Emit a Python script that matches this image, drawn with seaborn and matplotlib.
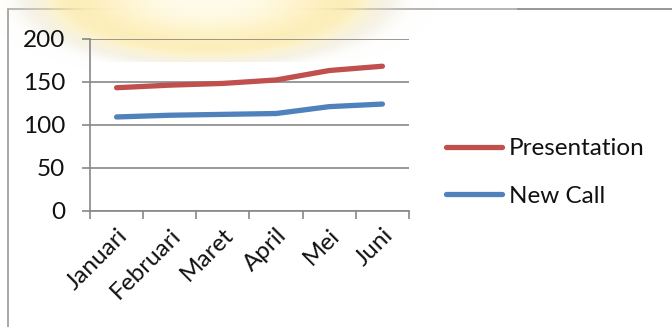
import numpy as np
import pandas as pd
import matplotlib
matplotlib.use("Agg")
import matplotlib.pyplot as plt
import seaborn as sns
from matplotlib.lines import Line2D

months = ["Januari", "Februari", "Maret", "April", "Mei", "Juni"]
presentation = [143, 146, 148, 152, 163, 168]
new_call = [109, 111, 112, 113, 121, 124]
series_names = ["Presentation", "New Call"]
colors = ["#C0504D", "#4F81BD"]
yticks = [0, 50, 100, 150, 200]

sns.set_style("white")
plt.rcParams['font.family'] = ['Lato', 'DejaVu Sans']

W, H = 672, 327
fig = plt.figure(figsize=(W / 100, H / 100), dpi=100)
fig.patch.set_facecolor("white")

# background: border and soft glow
bg = fig.add_axes([0, 0, 1, 1], zorder=0)
bg.axis('off')
bg.plot([8, 8], [9, H], color='#9a9a9a', lw=1.2)
bg.plot([8, 518], [9, 9], color='#a8a8a8', lw=1.2)
bg.plot([518, W], [9, 9], color='#858585', lw=1.2)
yy, xx = np.mgrid[0:H, 0:W] + 0.5
d = np.sqrt(((xx - 208) / 178) ** 2 + ((yy + 3) / 66) ** 2)
center_c = np.array([255, 251, 232]) / 255
rim_c = np.array([252, 232, 160]) / 255
shadow_c = np.array([215, 213, 205]) / 255
t = np.clip((d - 0.2) / 0.65, 0, 1) ** 1.3
glow_rgb = center_c[None, None, :] + (rim_c - center_c)[None, None, :] * t[..., None]
ag = 1 / (1 + np.exp((d - 0.88) / 0.075))
ash = 0.25 * np.exp(-((d - 1.0) / 0.1) ** 2)
out_a = ag + ash * (1 - ag)
out_rgb = (glow_rgb * ag[..., None] + shadow_c[None, None, :] * (ash * (1 - ag))[..., None]) / np.maximum(out_a, 1e-6)[..., None]
mask = (xx >= 90) & (yy >= 62)
out_a[mask] = 0
img = np.zeros((H, W, 4))
img[..., :3] = np.clip(out_rgb, 0, 1)
img[..., 3] = out_a
bg.imshow(img, extent=[0, W, H, 0], aspect='auto', zorder=3, interpolation='bilinear')
bg.set_xlim(0, W)
bg.set_ylim(H, 0)

# main axes
ax = fig.add_axes([90 / W, 1 - 210.7 / H, (409 - 90) / W, (210.7 - 38.7) / H], zorder=1)
ax.set_facecolor('none')

df = pd.DataFrame({
    "Bulan": months * 2,
    "Nilai": presentation + new_call,
    "Seri": [series_names[0]] * len(months) + [series_names[1]] * len(months),
})
sns.lineplot(data=df, x="Bulan", y="Nilai", hue="Seri", hue_order=series_names,
             palette=dict(zip(series_names, colors)), lw=3.8, ax=ax,
             legend=False, sort=False)
for l in ax.lines:
    l.set_solid_capstyle('round')

gc = '#878787'
fs = 17.5
ax.set_xlim(-0.5, len(months) - 0.5)
ax.set_ylim(0, 200)
ax.set_yticks(yticks)
ax.yaxis.grid(True, color=gc, lw=1.2)
ax.xaxis.grid(False)
ax.set_axisbelow(True)
for s in ['top', 'right']:
    ax.spines[s].set_visible(False)
for s in ['left', 'bottom']:
    ax.spines[s].set_color(gc)
    ax.spines[s].set_linewidth(1.2)
ax.set_xlabel("")
ax.set_ylabel("")
ax.tick_params(axis='y', direction='out', length=6, width=1.2, color=gc,
               pad=12, labelsize=fs, labelcolor='#111111', left=True)
ax.set_xticks(range(len(months)))
ax.set_xticks(np.arange(-0.5, len(months), 1.0), minor=True)
ax.tick_params(axis='x', which='major', length=0, pad=10, labelsize=fs, labelcolor='#111111')
ax.tick_params(axis='x', which='minor', direction='out', length=6, width=1.2, color=gc, bottom=True)
ax.set_xticklabels(months, rotation=45, ha='right', rotation_mode='anchor')

handles = [Line2D([], [], color=c, lw=3.8, solid_capstyle='round') for c in colors]
ax.legend(handles, series_names, loc='center left',
          bbox_to_anchor=(446 / W, 1 - 172.5 / H), bbox_transform=fig.transFigure,
          frameon=False, fontsize=fs, handlelength=2.3, handletextpad=0.3,
          labelspacing=1.1, borderpad=0, borderaxespad=0, labelcolor='#111111')

fig.savefig("out.png", dpi=100)
